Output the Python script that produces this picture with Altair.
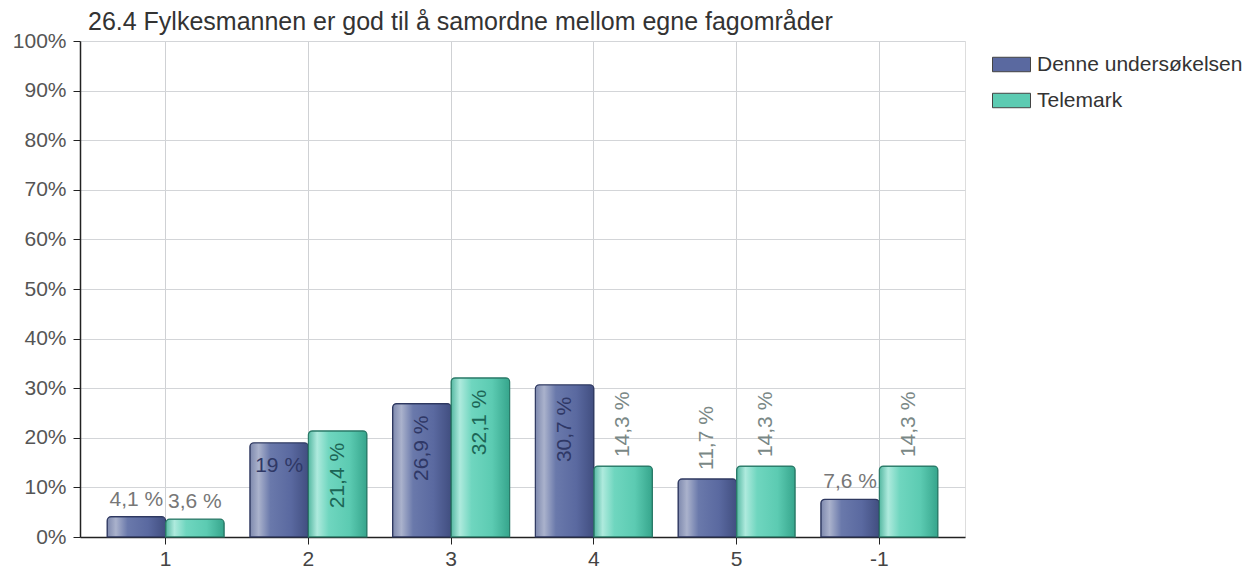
import altair as alt
import pandas as pd

title_text = "26.4 Fylkesmannen er god til å samordne mellom egne fagområder"
categories = ["1", "2", "3", "4", "5", "-1"]
series_names = ["Denne undersøkelsen", "Telemark"]
denne_values = [4.1, 19.0, 26.9, 30.7, 11.7, 7.6]
telemark_values = [3.6, 21.4, 32.1, 14.3, 14.3, 14.3]
# label placement as shown in the original: h_above, h_inside, v_inside, v_above
denne_label_modes = ["h_above", "h_inside", "v_inside", "v_inside", "v_above", "h_above"]
telemark_label_modes = ["h_above", "v_inside", "v_inside", "v_above", "v_above", "v_above"]
y_ticks = [i / 10 for i in range(11)]


def fmt(v):
    if float(v).is_integer():
        return f"{int(v)} %"
    return f"{v:.1f}".replace(".", ",") + " %"


rows = []
for s, vals, modes in [(series_names[0], denne_values, denne_label_modes),
                       (series_names[1], telemark_values, telemark_label_modes)]:
    for c, v, m in zip(categories, vals, modes):
        rows.append({"cat": c, "series": s, "value": v / 100, "label": fmt(v), "mode": m})
df = pd.DataFrame(rows)

FONT = "Liberation Sans"
FS = 21
blue_c = "#5a69a0"
teal_c = "#5ccbb2"

x_enc = alt.X("cat:N", sort=categories, title=None,
              scale=alt.Scale(paddingInner=0.18, paddingOuter=0.19),
              axis=alt.Axis(labelAngle=0, labelFontSize=FS, labelColor="#444", labelFont=FONT,
                            tickSize=7, tickColor="#222", domainColor="#222", domainWidth=1.5,
                            grid=True, gridColor="#cfd1d4", bandPosition=0.5, labelPadding=4))
xo_enc = alt.XOffset("series:N", scale=alt.Scale(domain=series_names, paddingInner=0, paddingOuter=0))
y_enc = alt.Y("value:Q", title=None,
              scale=alt.Scale(domain=[0, 1], nice=False),
              axis=alt.Axis(values=y_ticks, format=".0%", labelFontSize=FS, labelColor="#555",
                            labelFont=FONT, tickSize=7, tickColor="#222", domainColor="#222",
                            domainWidth=1.5, grid=True, gridColor="#d3d5d8", labelPadding=7))

base = alt.Chart(df)

legend_bars = base.mark_bar(cornerRadiusTopLeft=4, cornerRadiusTopRight=4).encode(
    x=x_enc, xOffset=xo_enc, y=y_enc,
    color=alt.Color("series:N", scale=alt.Scale(domain=series_names, range=[blue_c, teal_c]),
                    legend=alt.Legend(title=None, orient="none", legendX=912, legendY=4,
                                      symbolType="M-1,-0.38H1V0.38H-1Z", symbolSize=1444,
                                      symbolStrokeColor="#444", symbolStrokeWidth=1,
                                      labelFontSize=FS, labelFont=FONT, labelColor="#333",
                                      labelLimit=400, rowPadding=6, labelOffset=6)),
)

blue_grad = alt.Gradient(gradient="linear", x1=0, x2=1, y1=0, y2=0, stops=[
    alt.GradientStop(color="#7d88ad", offset=0),
    alt.GradientStop(color="#aab2cc", offset=0.15),
    alt.GradientStop(color="#6a79ab", offset=0.35),
    alt.GradientStop(color="#5a69a0", offset=0.7),
    alt.GradientStop(color="#414e80", offset=1)])
teal_grad = alt.Gradient(gradient="linear", x1=0, x2=1, y1=0, y2=0, stops=[
    alt.GradientStop(color="#55b8a2", offset=0),
    alt.GradientStop(color="#aeeadd", offset=0.15),
    alt.GradientStop(color="#6fd6bf", offset=0.35),
    alt.GradientStop(color="#5ccbb2", offset=0.7),
    alt.GradientStop(color="#36a58c", offset=1)])

blue_bars = base.transform_filter(alt.datum.series == series_names[0]).mark_bar(
    color=blue_grad, stroke="#2e3860", strokeWidth=1.2,
    cornerRadiusTopLeft=4, cornerRadiusTopRight=4).encode(x=x_enc, xOffset=xo_enc, y=y_enc)
teal_bars = base.transform_filter(alt.datum.series == series_names[1]).mark_bar(
    color=teal_grad, stroke="#2a7a68", strokeWidth=1.2,
    cornerRadiusTopLeft=4, cornerRadiusTopRight=4).encode(x=x_enc, xOffset=xo_enc, y=y_enc)

inside_color = alt.condition(alt.datum.series == series_names[0], alt.value("#2f3866"), alt.value("#1c6656"))

h_above = base.transform_filter(alt.datum.mode == "h_above").mark_text(
    baseline="bottom", dy=-7, fontSize=FS, font=FONT, color="#777777").encode(
    x=x_enc, xOffset=xo_enc, y=y_enc, text="label:N")
h_inside = base.transform_filter(alt.datum.mode == "h_inside").mark_text(
    baseline="top", dy=12, fontSize=FS, font=FONT).encode(
    x=x_enc, xOffset=xo_enc, y=y_enc, text="label:N", color=inside_color)
v_inside = base.transform_filter(alt.datum.mode == "v_inside").mark_text(
    angle=270, align="right", baseline="middle", dx=-12, fontSize=FS, font=FONT).encode(
    x=x_enc, xOffset=xo_enc, y=y_enc, text="label:N", color=inside_color)
v_above = base.transform_filter(alt.datum.mode == "v_above").mark_text(
    angle=270, align="left", baseline="middle", dx=9, fontSize=FS, font=FONT, color="#7a8886").encode(
    x=x_enc, xOffset=xo_enc, y=y_enc, text="label:N")

chart = alt.layer(legend_bars, blue_bars, teal_bars, h_above, h_inside, v_inside, v_above).properties(
    width=885, height=496,
    autosize=alt.AutoSizeParams(type="none"),
    padding={"left": 72, "top": 33, "right": 280, "bottom": 36},
    title=alt.TitleParams(title_text, anchor="start", frame="group", fontSize=25, font=FONT,
                          fontWeight="normal", color="#333", offset=-5, dx=8),
).configure_view(
    fill="#e7e9eb", stroke="#8a8a8a", strokeWidth=1
).configure(background="white")

chart.save("out.html", embed_options={"renderer": "svg", "actions": False})
